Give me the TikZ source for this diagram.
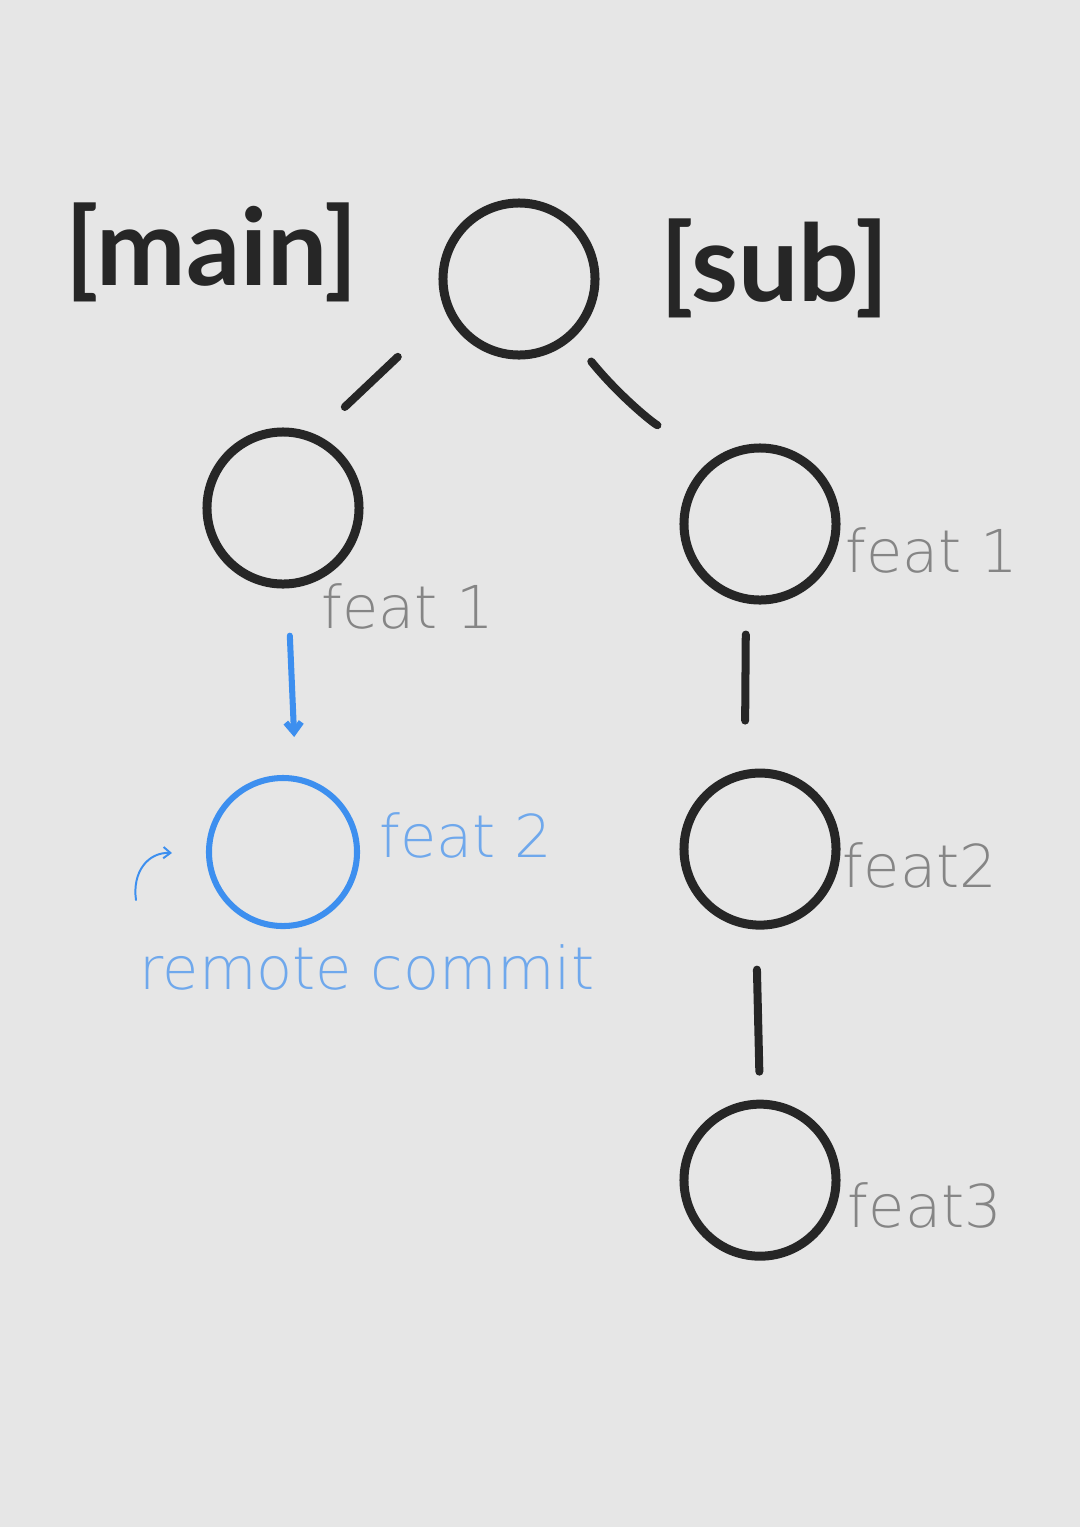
\documentclass[tikz,border=0pt]{standalone}
\usepackage{fontspec}
\setmainfont{Lato}
\newfontfamily\pencil{DejaVu Sans ExtraLight}
\usetikzlibrary{arrows.meta,positioning}
\definecolor{Board}{HTML}{E6E6E6}
\definecolor{Ink}{HTML}{262626}
\definecolor{Pencil}{HTML}{858585}
\definecolor{Sky}{HTML}{3D8FEF}
\definecolor{SkyInk}{HTML}{6FA8EC}

\begin{document}
\begin{tikzpicture}[
  x=0.025cm,y=-0.025cm,
  commit/.style={circle,draw=Ink,line width=6.4pt,minimum size=3.8cm,inner sep=0pt},
  remote/.style={commit,draw=Sky,line width=4.3pt,minimum size=3.7cm},
  branch/.style={font=\bfseries\fontsize{76}{84}\selectfont,text=Ink,inner sep=0pt},
  note/.style={font=\pencil\fontsize{42}{48}\selectfont,text=Pencil,inner sep=0pt},
  bluenote/.style={note,text=SkyInk},
  link/.style={draw=Ink,line width=5.7pt,line cap=round},
  push/.style={draw=Sky,line width=4.3pt,line cap=round,-{Straight Barb[length=7pt,width=11pt]}}
]
\fill[Board] (0,0) rectangle (1080,1527);
\useasboundingbox (0,0) rectangle (1080,1527);
\node[commit] (root) at (519,279) {};
\node[commit] (l1) at (283,508) {};
\node[remote,below=4.66cm of l1] (l2) {};
\node[commit] (r1) at (760,524) {};
\node[commit,below=4.1cm of r1] (r2) {};
\node[commit,below=4.25cm of r2] (r3) {};
\node[branch] (mainlbl) at (212,252) {[main]};
\node[branch] (sublbl) at (775,268) {[sub]};
\node[note] (l1note) at (408,606) {feat 1};
\node[note] (r1note) at (932,550) {feat 1};
\node[bluenote] (l2note) at (466,835) {feat 2};
\node[bluenote] (remotelbl) at (367,968) {remote commit};
\node[note] (r2note) at (920,865) {feat2};
\node[note] (r3note) at (925,1205) {feat3};
\draw[link,shorten <=1.64cm,shorten >=1.0cm] (root.204) -- (l1.66);
\draw[link,shorten <=0.73cm,shorten >=1.68cm] (root.312) to[bend right=12] (r1.122);
\draw[link,shorten <=0.75cm,shorten >=1.2cm] ([xshift=-0.35cm]r1.south) -- ([xshift=-0.38cm]r2.north);
\draw[link,shorten <=1.0cm,shorten >=0.7cm] ([xshift=-0.1cm]r2.south) -- (r3.north);
\draw[push,shorten <=1.18cm,shorten >=0.95cm] ([xshift=0.12cm]l1.south) -- ([xshift=0.32cm]l2.north);
\coordinate (hooktail) at (136,900);
\coordinate (hookhead) at (172,853);
\draw[push,line width=1.4pt,-{Straight Barb[length=5pt,width=8pt]}] (hooktail) .. controls (132,872) and (148,852) .. (hookhead);
\end{tikzpicture}
\end{document}
